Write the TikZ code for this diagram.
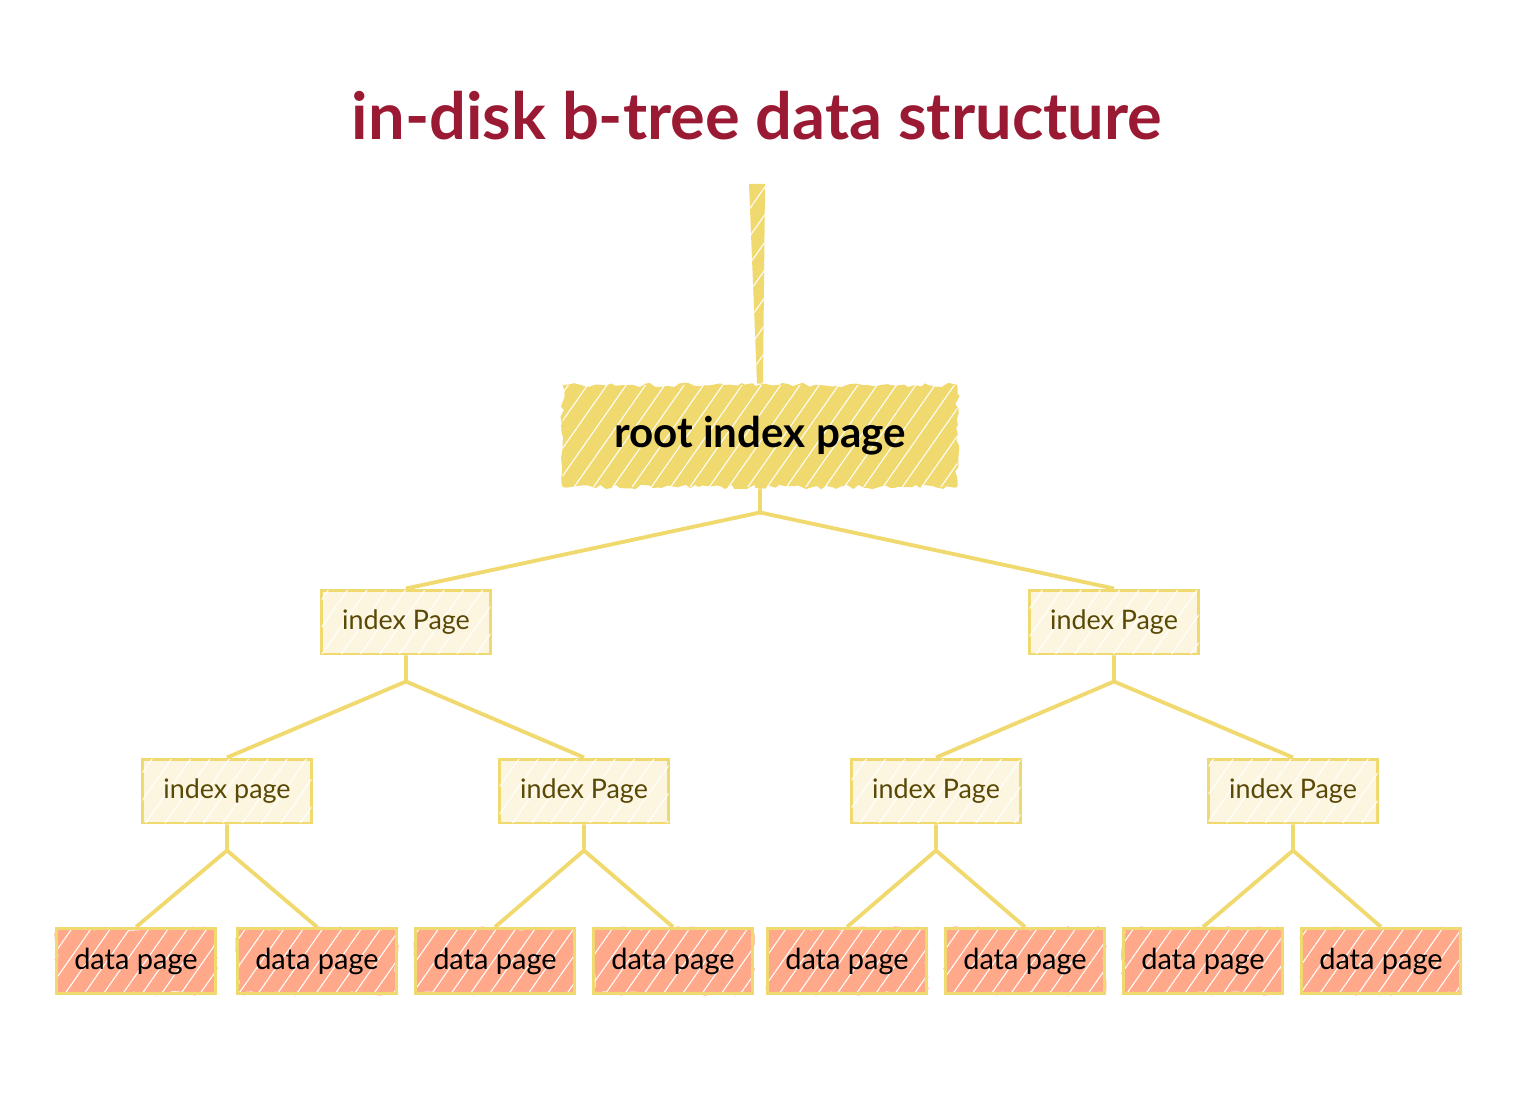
\documentclass[tikz,border=0pt]{standalone}
\usepackage{fontspec}
\setmainfont{Lato}
\usetikzlibrary{calc, backgrounds, decorations.pathmorphing, patterns.meta}
\definecolor{titlered}{HTML}{9B1A33}
\definecolor{gold}{HTML}{F0D96F}
\definecolor{cream}{HTML}{FCF6E1}
\definecolor{olive}{HTML}{5A4806}
\definecolor{salmon}{HTML}{FFA98A}
\tikzset{
  rough/.style={decorate, decoration={random steps, segment length=3pt, amplitude=1.3pt}},
  hatch/.style={pattern={Lines[angle=55, distance=9pt, line width=0.6pt]}, pattern color=white, fill opacity=#1},
  page/.style={
    rectangle, inner sep=0pt, align=center,
    minimum width=3.38cm, minimum height=1.28cm,
    draw=gold, line width=1.7pt
  },
  rootpage/.style={page, draw=none, minimum width=7.9cm, minimum height=2.04cm,
    preaction={fill=gold, rough}, postaction={hatch=0.5},
    font=\fontsize{24}{28}\selectfont\bfseries},
  indexpage/.style={page, fill=cream, postaction={hatch=0.4},
    text=olive, font=\fontsize{15.3}{18}\selectfont},
  datapage/.style={page, minimum width=3.18cm, minimum height=1.3cm,
    preaction={fill=salmon, rough}, preaction={hatch=0.45},
    font=\fontsize{16.5}{19}\selectfont},
  edge/.style={draw=gold, line width=2.2pt},
}

\begin{document}
\begin{tikzpicture}[x=0.02cm, y=-0.02cm]
  \useasboundingbox (0,0) rectangle (1514,1114);

  \node[text=titlered, font=\fontsize{37}{42}\selectfont\bfseries] (title) at (757,116) {in-disk b-tree data structure};

  \coordinate (top) at (757,184);
  \node[rootpage] (root) at (760,436) {root index page};

  \node[indexpage] (i1) at (406,622) {index Page};
  \node[indexpage] (i2) at (1114,622) {index Page};

  \node[indexpage] (i11) at (227,791) {index page};
  \node[indexpage] (i12) at (584,791) {index Page};
  \node[indexpage] (i21) at (936,791) {index Page};
  \node[indexpage] (i22) at (1293,791) {index Page};

  \foreach \x [count=\n] in {136,317,495,673,847,1025,1203,1381}
    \node[datapage] (d\n) at (\x,961) {data page};

  \begin{scope}[on background layer]
    \fill[gold, postaction={hatch=0.5}] ($(top)+(-8,0)$) -- ($(top)+(8,0)$) -- ($(root.north)+(3,0)$) -- ($(root.north)+(-3,0)$) -- cycle;
    \coordinate (j0) at ($(root.south)+(0,24)$);
    \draw[edge] (root.south) -- (j0) -- (i1.north);
    \draw[edge] (j0) -- (i2.north);
    \foreach \p/\a/\b in {i1/i11/i12, i2/i21/i22, i11/d1/d2, i12/d3/d4, i21/d5/d6, i22/d7/d8} {
      \coordinate (j\p) at ($(\p.south)+(0,26)$);
      \draw[edge] (\p.south) -- (j\p) -- (\a.north);
      \draw[edge] (j\p) -- (\b.north);
    }
  \end{scope}
\end{tikzpicture}
\end{document}
